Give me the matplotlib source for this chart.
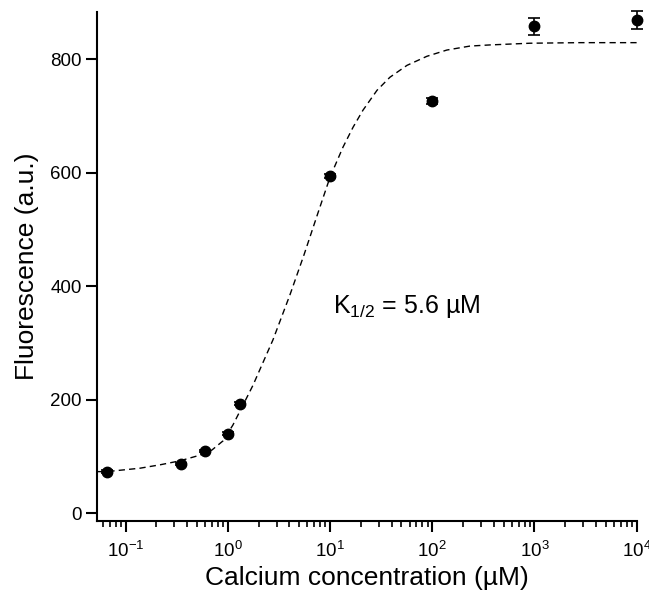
import matplotlib
matplotlib.use("Agg")
import matplotlib.pyplot as plt

plt.rcParams['font.family'] = ['Liberation Sans', 'DejaVu Sans']
plt.rcParams['mathtext.fontset'] = 'custom'
plt.rcParams['mathtext.rm'] = 'Liberation Sans'
plt.rcParams['mathtext.it'] = 'Liberation Sans:italic'
plt.rcParams['mathtext.default'] = 'regular'

# measured points (calcium in uM, fluorescence in a.u.)
calcium = [0.065, 0.35, 0.6, 1.0, 1.33, 10, 100, 1000, 10000]
fluor = [73, 86, 109, 140, 193, 594, 726, 858, 869]
fluor_err = [2, 2, 2, 2, 2, 4, 5, 15, 16]

# fitted curve
fit_x = [0.0536, 0.0652, 0.138, 0.217, 0.340, 0.533, 0.698, 0.895, 1.12,
         1.37, 1.76, 2.76, 4.06, 5.56, 7.62, 10.0, 13.4, 16.8, 21.0, 28.8,
         38.5, 56.6, 88.7, 139, 234, 367, 904, 2790, 10000]
fit_y = [73, 73, 79, 85, 92, 102, 111, 127, 155,
         186, 225, 305, 385, 455, 529, 592, 645, 680, 710, 745,
         768, 789, 805, 816, 823, 825, 828, 829, 829]

fig = plt.figure(figsize=(6.49, 6.07), dpi=100)
ax = fig.add_axes([0.1495, 0.1417, 0.8315, 0.8385])

ax.plot(fit_x, fit_y, color='black', lw=1.0, linestyle=(0, (4.5, 3)))
eb = ax.errorbar(calcium, fluor, yerr=fluor_err, fmt='o', color='black',
                 ms=7.5, elinewidth=1.2, capsize=4, capthick=1.2)
for artist in eb.get_children():
    artist.set_clip_on(False)

ax.set_xscale('log')
ax.set_xlim(0.0525, 10000)
ax.set_ylim(-14, 883)
ax.set_yticks([0, 200, 400, 600, 800])

for s in ['top', 'right']:
    ax.spines[s].set_visible(False)
for s in ['left', 'bottom']:
    ax.spines[s].set_linewidth(1.5)

ax.tick_params(axis='both', which='major', length=8, width=1.5,
               labelsize=13.5, pad=3)
ax.tick_params(axis='x', which='minor', length=4.5, width=1.2)
ax.tick_params(axis='x', which='major', pad=6)

ax.set_xlabel('Calcium concentration (µM)', fontsize=19, labelpad=4)
ax.set_ylabel('Fluorescence (a.u.)', fontsize=19, labelpad=8)

ax.text(10.6, 352, r'$\mathrm{K}_{1/2}$ = 5.6 µM', fontsize=18,
        ha='left', va='baseline')

fig.savefig('out.png', dpi=100)
